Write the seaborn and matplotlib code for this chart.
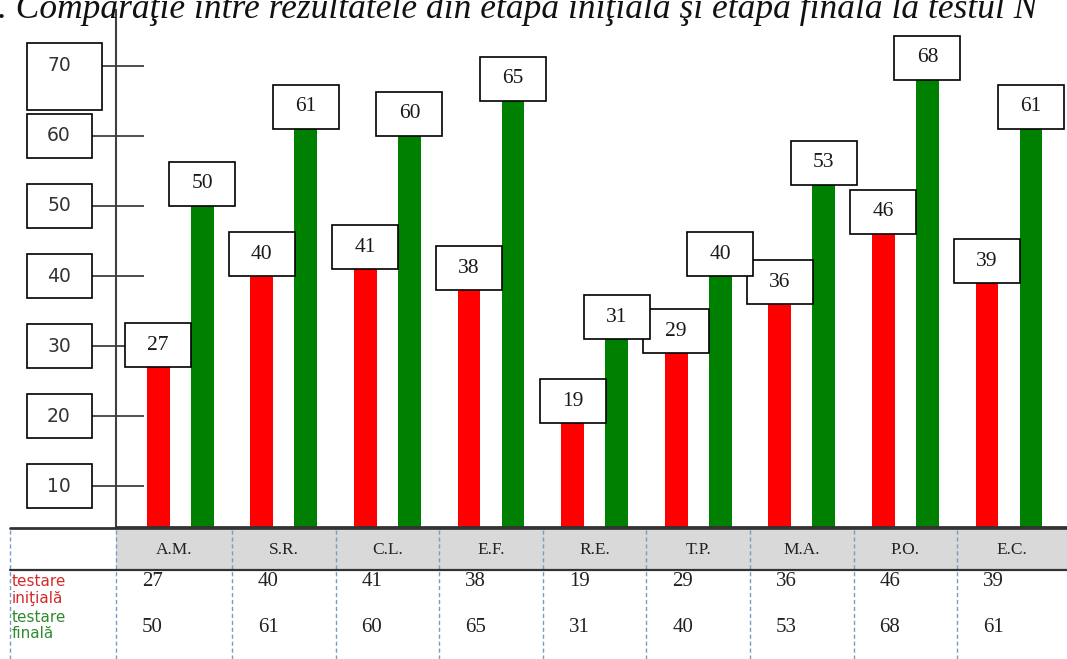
import matplotlib
matplotlib.use("Agg")
import matplotlib.pyplot as plt
import pandas as pd
import seaborn as sns
from matplotlib.lines import Line2D
from matplotlib.patches import Rectangle
from matplotlib.transforms import blended_transform_factory

# ── data ─────────────────────────────────────────────────────────────────────
NAMES   = ["A.M.", "S.R.", "C.L.", "E.F.", "R.E.", "T.P.", "M.A.", "P.O.", "E.C."]
INITIAL = [27, 40, 41, 38, 19, 29, 36, 46, 39]
FINAL   = [50, 61, 60, 65, 31, 40, 53, 68, 61]
SERIES  = ["testare iniţială", "testare finală"]
ROW_LABELS = [["testare", "iniţială"], ["testare", "finală"]]
YTICKS  = [10, 20, 30, 40, 50, 60, 70]
TITLE   = ". Comparaţie între rezultatele din etapa iniţială şi etapa finală la testul N"

RED   = "#ff0000"
GREEN = "#008000"
DARK  = "#333333"
DASH  = "#7d9ac0"

df = pd.DataFrame({
    "elev":  NAMES * 2,
    "etapa": [SERIES[0]] * len(NAMES) + [SERIES[1]] * len(NAMES),
    "scor":  INITIAL + FINAL,
})

sns.set_theme(style="white")
plt.rcParams["font.family"] = ["Liberation Serif", "DejaVu Serif"]

W, H = 1067, 659
fig = plt.figure(figsize=(W / 100, H / 100), dpi=100)
ax = fig.add_axes([116 / W, 132 / H, 951 / W, 517 / H])

sns.barplot(data=df, x="elev", y="scor", hue="etapa", order=NAMES,
            hue_order=SERIES, palette=[RED, GREEN], width=0.85, gap=0.48,
            saturation=1, errorbar=None, legend=False, linewidth=0,
            zorder=2, ax=ax)

XLIM = (-0.62, 8.56)
YLIM = (4.2, 77.95)
ax.set_xlim(*XLIM)
ax.set_ylim(*YLIM)
ax.set_xlabel("")
ax.set_ylabel("")
ax.set_xticks([])
ax.set_yticks(YTICKS)
ax.tick_params(axis="y", left=True, labelleft=False, direction="inout",
               length=39.6, width=1.3, color="#404040")
for s in ("top", "right"):
    ax.spines[s].set_visible(False)
ax.spines["left"].set_color("#404040")
ax.spines["left"].set_linewidth(1.5)
ax.spines["bottom"].set_color(DARK)
ax.spines["bottom"].set_linewidth(2)

px_x = 951 / (XLIM[1] - XLIM[0])
px_y = 517 / (YLIM[1] - YLIM[0])

# ── value boxes above bars ───────────────────────────────────────────────────
bw, bh = 66 / px_x, 44 / px_y
for cont in ax.containers:
    for bar in cont:
        xc = bar.get_x() + bar.get_width() / 2
        h = bar.get_height()
        ax.add_patch(Rectangle((xc - bw / 2, h), bw, bh, facecolor="white",
                               edgecolor="black", lw=1.2, zorder=3, clip_on=False))
        ax.text(xc, h + bh / 2, f"{h:.0f}", ha="center", va="center",
                fontsize=15.5, color="#1a1a1a", zorder=4)

# ── boxed y tick labels ──────────────────────────────────────────────────────
ax_y = blended_transform_factory(ax.transAxes, ax.transData)
for t in YTICKS:
    x0, w = -89 / 951, 65 / 951
    lo, hi = t - 22 / px_y, t + 22 / px_y
    if t == YTICKS[-1]:
        w = 75 / 951
        lo, hi = t - 44 / px_y, t + 23 / px_y
    ax.add_patch(Rectangle((x0, lo), w, hi - lo, transform=ax_y,
                           facecolor="white", edgecolor="black", lw=1.2,
                           clip_on=False, zorder=3))
    ax.text(-57 / 951, t, str(t), transform=ax_y, ha="center", va="center",
            fontsize=13.5, family="DejaVu Sans", color="#333333", zorder=4)

# ── title (cut by the figure edge, as in the source) ─────────────────────────
fig.text(-2 / W, 1 - 18 / H, TITLE, ha="left", va="baseline", fontsize=25.5,
         style="italic", color="#111111")

# ── data table under the chart ───────────────────────────────────────────────
def fy(px):
    return 1 - px / H

fig_data = blended_transform_factory(ax.transData, fig.transFigure)
fig_axes = blended_transform_factory(ax.transAxes, fig.transFigure)

ax.add_patch(Rectangle((0, fy(569)), 1, fy(530) - fy(569), transform=fig_axes,
                       facecolor="#d9d9d9", edgecolor="none", clip_on=False,
                       zorder=1))
for ypx, lw in ((528, 2.0), (570, 1.6)):
    fig.add_artist(Line2D([10 / W, 1], [fy(ypx), fy(ypx)], color=DARK, lw=lw))

for xa in (-106 / 951, 0):
    ax.add_line(Line2D([xa, xa], [fy(530), 0], transform=fig_axes, color=DASH,
                       lw=1, ls=(0, (3, 2)), clip_on=False))
for i in range(len(NAMES) - 1):
    ax.add_line(Line2D([i + 0.5, i + 0.5], [fy(530), 0], transform=fig_data,
                       color=DASH, lw=1, ls=(0, (3, 2)), clip_on=False))

for i, name in enumerate(NAMES):
    left = XLIM[0] if i == 0 else i - 0.5
    right = XLIM[1] if i == len(NAMES) - 1 else i + 0.5
    ax.text((left + right) / 2, fy(550), name, transform=fig_data, ha="center",
            va="center", fontsize=12.5, color="#222222")
    ax.text(left + 0.25, fy(582), str(INITIAL[i]), transform=fig_data,
            ha="left", va="center", fontsize=15, color="#222222")
    ax.text(left + 0.25, fy(627), str(FINAL[i]), transform=fig_data,
            ha="left", va="center", fontsize=15, color="#222222")

for lines, col, ys in zip(ROW_LABELS, ["#d42a2a", "#2e8b2e"],
                          ((582, 598), (618, 634))):
    for txt, ypx in zip(lines, ys):
        ax.text(-104 / 951, fy(ypx), txt, transform=fig_axes, ha="left",
                va="center", fontsize=11, family="DejaVu Sans", color=col)

fig.savefig("out.png", dpi=100)
plt.close(fig)
